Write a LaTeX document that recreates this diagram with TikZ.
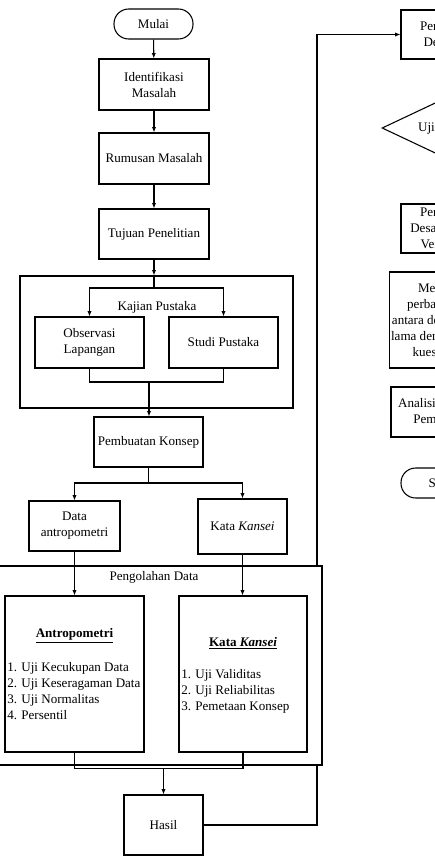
\documentclass[tikz,border=0pt]{standalone}
\usepackage{fontspec}
\setmainfont{Liberation Serif}
\usetikzlibrary{positioning,arrows.meta,shapes.geometric,backgrounds}

\tikzset{
  box/.style={draw, line width=0.8pt, align=center, inner sep=1pt},
  term/.style={box, rounded corners=11pt},
  frame/.style={draw, line width=0.8pt, inner sep=0pt},
  wire/.style={line width=0.8pt},
  arr/.style={wire, -{Latex[length=4pt,width=3.2pt]}},
}

\begin{document}
\begin{tikzpicture}[x=0.75pt, y=-0.75pt, font=\fontsize{9.8}{12}\selectfont]
  \useasboundingbox (0,0) rectangle (435,856);
  \clip (0,0) rectangle (435,856);
  \def\bw{82.5pt} % width of a plain step box
  \def\bh{38.25pt} % height of a plain step box
  % left column
  \node[term, minimum width=59.25pt, minimum height=22.5pt] (mulai) at (153.5,24) {Mulai};
  \node[box, minimum width=\bw, minimum height=\bh] (ident) at (154,84.5) {Identifikasi\\Masalah};
  \node[box, minimum width=\bw, minimum height=\bh] (rumusan) at (154,158.5) {Rumusan Masalah};
  \node[box, minimum width=\bw, minimum height=37.5pt] (tujuan) at (154,234) {Tujuan Penelitian};
  \node[frame, minimum width=204.75pt, minimum height=99pt] (kajian) at (156.5,342) {};
  \node (kajlabel) at (157,307) {Kajian Pustaka};
  \node[box, minimum width=81.75pt, minimum height=\bh] (observasi) at (89.5,342.5) {Observasi\\Lapangan};
  \node[box, minimum width=81.75pt, minimum height=\bh] (studi) at (223.5,342.5) {Studi Pustaka};
  \node[box, minimum width=81.75pt, minimum height=37.5pt] (konsep) at (148.5,442) {Pembuatan Konsep};
  \node[box, minimum width=68.25pt, minimum height=37.5pt] (dataant) at (74.5,526) {Data\\antropometri};
  \node[box, minimum width=66.75pt, minimum height=41.25pt] (katakan) at (242.5,526.5) {Kata \textit{Kansei}};
  \node[frame, fill=white, minimum width=245.25pt, minimum height=149.25pt] (olah) at (158.5,665.5) {};
  \node (olahlabel) at (154,577) {Pengolahan Data};
  \node[box, minimum width=104.25pt, minimum height=117pt] (antbox) at (74.5,674) {};
  \node[box, minimum width=96pt, minimum height=117pt] (kanbox) at (243,674) {};
  \node (anttitle) at (74.5,636) {\underline{\textbf{Antropometri}}};
  \node[align=left, anchor=west, inner sep=0pt] (antlist) at (7,691)
    {1. Uji Kecukupan Data\\2. Uji Keseragaman Data\\3. Uji Normalitas\\4. Persentil};
  \node (kantitle) at (243,643) {\underline{\textbf{Kata \textit{Kansei}}}};
  \node[align=left, anchor=west, inner sep=0pt] (kanlist) at (181,691)
    {1. Uji Validitas\\2. Uji Reliabilitas\\3. Pemetaan Konsep};
  \node[box, minimum width=59.25pt, minimum height=45pt] (hasil) at (163.5,825) {Hasil};
  % right column
  \node[box, minimum width=\bw, minimum height=36.75pt] (rancang) at (456,34.5) {Perbandingan\\Desain Baru};
  \node[draw, diamond, aspect=2.1, line width=0.8pt, inner sep=0pt,
        minimum width=111pt, minimum height=52.5pt] (ujidesain) at (456,128) {Uji Kelayakan};
  \node[box, minimum width=\bw, minimum height=36.75pt] (banding) at (456,228.5)
    {Perbandingan\\Desain Lama dan\\Versi Terbaru};
  \node[box, minimum width=97.5pt, minimum height=72pt] (ujibanding) at (456,320)
    {Melakukan uji\\perbandingan nilai\\antara desain usulan dan\\lama dengan penyebaran\\kuesioner online};
  \node[box, minimum width=97.5pt, minimum height=37.5pt] (analisis) at (456,412)
    {Analisis Hasil Uji dan\\Pembahasan Uji};
  \node[term, minimum width=69pt, minimum height=22.5pt] (selesai) at (447,483) {Selesai};
  % connectors
  \draw[arr] (mulai) -- (ident);
  \draw[arr] (ident) -- (rumusan);
  \draw[arr] (rumusan) -- (tujuan);
  \draw[arr] (tujuan.south) -- (tujuan.south |- kajian.north);
  \coordinate (split) at (154,288);
  \draw[wire] (tujuan.south |- kajian.north) -- (split);
  \draw[arr] (split) -| (observasi.north);
  \draw[arr] (split) -| (studi.north);
  \coordinate (merge) at (149,382);
  \draw[wire] (observasi.south) |- (merge) -| (studi.south);
  \draw[arr] (merge) -- (merge |- konsep.north);
  \coordinate (fork) at (148.5,483);
  \draw[wire] (konsep.south) -- (fork);
  \draw[arr] (fork) -| (dataant.north);
  \draw[arr] (fork) -| (katakan.north);
  \draw[arr] (dataant) -- (antbox);
  \draw[arr] (katakan.south) -- (katakan.south |- kanbox.north);
  \coordinate (join) at (163.5,768.5);
  \draw[wire] (antbox.south) |- (join) -| (kanbox.south);
  \draw[arr] (join) -- (hasil);
  \coordinate (back) at (317,825);
  \begin{scope}[on background layer]
    \draw[arr] (hasil.east) -- (back) |- (rancang.west);
  \end{scope}
\end{tikzpicture}
\end{document}
